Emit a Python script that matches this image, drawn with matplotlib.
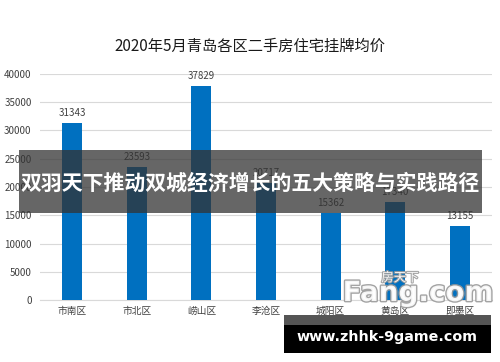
import matplotlib
matplotlib.use("Agg")
import matplotlib.pyplot as plt
from matplotlib.patches import Rectangle
import matplotlib.patheffects as pe

plt.rcParams['font.family'] = ['Noto Sans CJK SC', 'DejaVu Sans']

categories = ['市南区', '市北区', '崂山区', '李沧区', '城阳区', '黄岛区', '即墨区']
values = [31343, 23593, 37829, 20717, 15362, 17340, 13155]
yticks = [0, 5000, 10000, 15000, 20000, 25000, 30000, 35000, 40000]
title = '2020年5月青岛各区二手房住宅挂牌均价'
banner = '双羽天下推动双城经济增长的五大策略与实践路径'
site = 'www.zhhk-9game.com'

fig = plt.figure(figsize=(5.0, 3.62), dpi=100)
ax = fig.add_axes([0.08, 0.171, 0.904, 0.625])
x = range(len(categories))
bars = ax.bar(x, values, width=0.31, color='#0070C0', zorder=3)
for xi, v in zip(x, values):
    ax.text(xi, v + 900, str(v), ha='center', va='bottom', fontsize=7, color='#404040')
ax.set_ylim(0, 40000)
ax.set_xlim(-0.5, len(categories) - 0.5)
ax.set_yticks(yticks)
ax.set_yticklabels([str(t) for t in yticks], fontsize=7, color='#404040')
ax.set_xticks(list(x))
ax.set_xticklabels(categories, fontsize=7, color='#404040')
ax.tick_params(length=0, pad=6)
ax.tick_params(axis='x', pad=4)
ax.grid(axis='y', color='#d9d9d9', linewidth=0.8, zorder=0)
for s in ['top', 'right', 'left']:
    ax.spines[s].set_visible(False)
ax.spines['bottom'].set_color('#d9d9d9')
fig.text(0.5, 1 - 46 / 362, title, ha='center', va='center', fontsize=11, color='#1a1a1a')

# overlay banner
fig.patches.append(Rectangle((19 / 500, 1 - 213 / 362), 463 / 500, 63 / 362,
                             transform=fig.transFigure, facecolor='#333333', alpha=0.75,
                             edgecolor='none', zorder=10))
fig.text(250 / 500, 1 - 183 / 362, banner, ha='center', va='center', fontsize=15,
         fontweight='bold', color='white', zorder=11)

# watermark logo
fig.text(400 / 500, 1 - 278 / 362, '房天下', ha='center', va='center', fontsize=9,
         color='white', alpha=0.9, zorder=9,
         path_effects=[pe.withStroke(linewidth=1.5, foreground='#999999')])
fig.text(418 / 500, 1 - 293 / 362, 'Fang.com', ha='center', va='center', fontsize=20,
         fontweight='bold', color='white', alpha=0.9, zorder=9, family='DejaVu Sans',
         path_effects=[pe.withStroke(linewidth=2, foreground='#999999')])

# bottom site box
fig.patches.append(Rectangle((284 / 500, 1 - 325 / 362), 207 / 500, 10 / 362,
                             transform=fig.transFigure, facecolor='#555555',
                             edgecolor='none', zorder=10))
fig.patches.append(Rectangle((284 / 500, 1 - 353 / 362), 207 / 500, 28 / 362,
                             transform=fig.transFigure, facecolor='black',
                             edgecolor='none', zorder=10))
fig.text(387 / 500, 1 - 337 / 362, site, ha='center', va='center', fontsize=10.3,
         fontweight='bold', color='white', zorder=11, family='DejaVu Sans')

fig.savefig('out.png', dpi=100)
